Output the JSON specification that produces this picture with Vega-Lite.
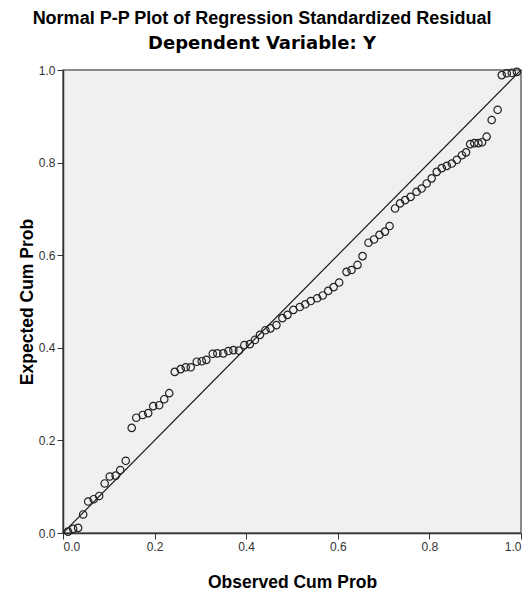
{
  "$schema": "https://vega.github.io/schema/vega-lite/v6.json",
  "autosize": "none",
  "width": 458,
  "height": 463,
  "padding": {"left": 63, "top": 70, "right": 11, "bottom": 59},
  "background": "#ffffff",
  "title": {
    "text": "Normal P-P Plot of Regression Standardized Residual",
    "subtitle": "Dependent Variable: Y",
    "anchor": "middle",
    "dx": -30,
    "offset": 11,
    "font": "Liberation Sans",
    "fontSize": 18,
    "fontWeight": "bold",
    "color": "#000000",
    "subtitleFont": "DejaVu Sans",
    "subtitleFontSize": 18,
    "subtitleFontWeight": "bold",
    "subtitleColor": "#000000",
    "subtitlePadding": 7
  },
  "datasets": {
    "diag": [{"x": 0, "y": 0}, {"x": 1, "y": 1}],
    "points": [
      {"obs": 0.011, "exp": 0.003}, {"obs": 0.022, "exp": 0.009}, {"obs": 0.033, "exp": 0.011},
      {"obs": 0.044, "exp": 0.040}, {"obs": 0.055, "exp": 0.068}, {"obs": 0.067, "exp": 0.073},
      {"obs": 0.079, "exp": 0.080}, {"obs": 0.091, "exp": 0.107}, {"obs": 0.102, "exp": 0.122},
      {"obs": 0.115, "exp": 0.124}, {"obs": 0.125, "exp": 0.136}, {"obs": 0.137, "exp": 0.156},
      {"obs": 0.150, "exp": 0.227}, {"obs": 0.160, "exp": 0.249}, {"obs": 0.174, "exp": 0.255},
      {"obs": 0.186, "exp": 0.259}, {"obs": 0.197, "exp": 0.274}, {"obs": 0.210, "exp": 0.276},
      {"obs": 0.221, "exp": 0.289}, {"obs": 0.232, "exp": 0.302}, {"obs": 0.244, "exp": 0.348},
      {"obs": 0.257, "exp": 0.354}, {"obs": 0.268, "exp": 0.358}, {"obs": 0.279, "exp": 0.358},
      {"obs": 0.292, "exp": 0.370}, {"obs": 0.303, "exp": 0.371}, {"obs": 0.313, "exp": 0.374},
      {"obs": 0.327, "exp": 0.387}, {"obs": 0.337, "exp": 0.388}, {"obs": 0.350, "exp": 0.388},
      {"obs": 0.361, "exp": 0.393}, {"obs": 0.372, "exp": 0.395}, {"obs": 0.384, "exp": 0.394},
      {"obs": 0.396, "exp": 0.406}, {"obs": 0.408, "exp": 0.408}, {"obs": 0.419, "exp": 0.417},
      {"obs": 0.430, "exp": 0.428}, {"obs": 0.442, "exp": 0.438}, {"obs": 0.453, "exp": 0.442},
      {"obs": 0.466, "exp": 0.449}, {"obs": 0.479, "exp": 0.464}, {"obs": 0.490, "exp": 0.471},
      {"obs": 0.503, "exp": 0.482}, {"obs": 0.517, "exp": 0.488}, {"obs": 0.529, "exp": 0.494},
      {"obs": 0.541, "exp": 0.501}, {"obs": 0.555, "exp": 0.507}, {"obs": 0.567, "exp": 0.513},
      {"obs": 0.579, "exp": 0.523}, {"obs": 0.591, "exp": 0.531}, {"obs": 0.603, "exp": 0.541},
      {"obs": 0.619, "exp": 0.564}, {"obs": 0.630, "exp": 0.568}, {"obs": 0.643, "exp": 0.579},
      {"obs": 0.654, "exp": 0.598}, {"obs": 0.667, "exp": 0.627}, {"obs": 0.679, "exp": 0.634},
      {"obs": 0.691, "exp": 0.644}, {"obs": 0.703, "exp": 0.651}, {"obs": 0.713, "exp": 0.663},
      {"obs": 0.725, "exp": 0.701}, {"obs": 0.736, "exp": 0.712}, {"obs": 0.747, "exp": 0.719},
      {"obs": 0.759, "exp": 0.726}, {"obs": 0.772, "exp": 0.737}, {"obs": 0.783, "exp": 0.744},
      {"obs": 0.794, "exp": 0.755}, {"obs": 0.805, "exp": 0.766}, {"obs": 0.816, "exp": 0.780},
      {"obs": 0.827, "exp": 0.788}, {"obs": 0.838, "exp": 0.793}, {"obs": 0.849, "exp": 0.798},
      {"obs": 0.860, "exp": 0.806}, {"obs": 0.871, "exp": 0.816}, {"obs": 0.880, "exp": 0.822},
      {"obs": 0.889, "exp": 0.840}, {"obs": 0.898, "exp": 0.842}, {"obs": 0.907, "exp": 0.842},
      {"obs": 0.915, "exp": 0.844}, {"obs": 0.925, "exp": 0.856}, {"obs": 0.936, "exp": 0.892},
      {"obs": 0.949, "exp": 0.914}, {"obs": 0.958, "exp": 0.989}, {"obs": 0.969, "exp": 0.993},
      {"obs": 0.980, "exp": 0.994}, {"obs": 0.991, "exp": 0.996}
    ]
  },
  "layer": [
    {
      "data": {"name": "diag"},
      "mark": {"type": "line", "color": "#1a1a1a", "strokeWidth": 1.2, "clip": true},
      "encoding": {
        "x": {"field": "x", "type": "quantitative"},
        "y": {"field": "y", "type": "quantitative"}
      }
    },
    {
      "data": {"name": "points"},
      "mark": {"type": "point", "shape": "circle", "filled": false, "size": 55, "stroke": "#222222", "strokeWidth": 1.2, "opacity": 1},
      "encoding": {
        "x": {
          "field": "obs", "type": "quantitative",
          "scale": {"domain": [0, 1], "nice": false, "zero": false},
          "axis": {"title": "Observed Cum Prob", "values": [0, 0.2, 0.4, 0.6, 0.8, 1.0], "format": ".1f"}
        },
        "y": {
          "field": "exp", "type": "quantitative",
          "scale": {"domain": [0, 1], "nice": false, "zero": false},
          "axis": {"title": "Expected Cum Prob", "values": [0, 0.2, 0.4, 0.6, 0.8, 1.0], "format": ".1f"}
        }
      }
    }
  ],
  "config": {
    "view": {"fill": "#f0f0f0", "stroke": "#666666", "strokeWidth": 1.5},
    "axis": {
      "grid": false,
      "domainColor": "#333333",
      "domainWidth": 1.5,
      "tickColor": "#333333",
      "tickSize": 6,
      "labelFont": "Liberation Sans",
      "labelFontSize": 12,
      "labelColor": "#333333",
      "labelPadding": 2,
      "titleFont": "Liberation Sans",
      "titleFontSize": 17.5,
      "titleFontWeight": "bold",
      "titleColor": "#000000"
    },
    "axisX": {"titlePadding": 21},
    "axisY": {"titlePadding": 2}
  }
}
